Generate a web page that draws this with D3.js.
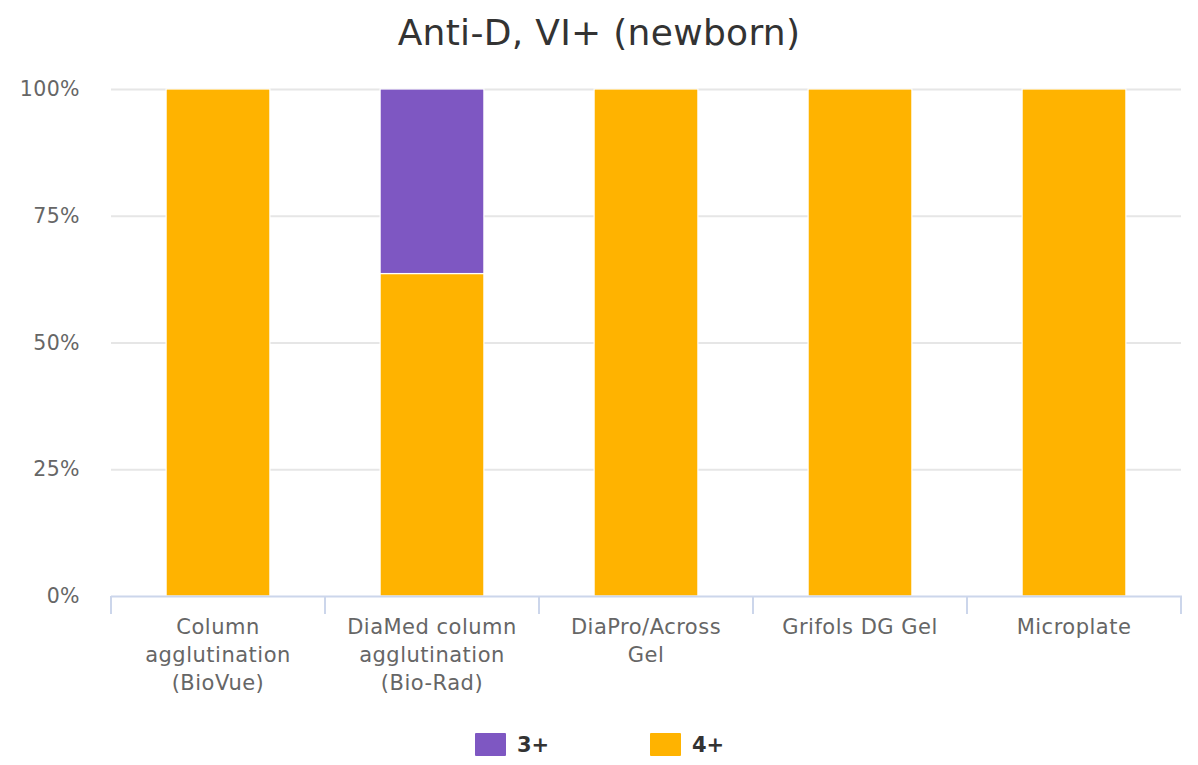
<!DOCTYPE html>
<html>
<head>
<meta charset="utf-8">
<script src="https://cdn.jsdelivr.net/npm/d3@7"></script>
<style>
  html, body { margin: 0; padding: 0; background: #fff; }
  svg { display: block; font-family: "DejaVu Sans", sans-serif; }
</style>
</head>
<body>
<svg id="chart" width="1198" height="765"></svg>
<script>
const title = "Anti-D, VI+ (newborn)";
const categories = [
  "Column agglutination (BioVue)",
  "DiaMed column agglutination (Bio-Rad)",
  "DiaPro/Across Gel",
  "Grifols DG Gel",
  "Microplate"
];
const seriesNames = ["3+", "4+"];
const seriesColors = ["#7E57C2", "#FFB300"];
const values3plus = [0, 36.4, 0, 0, 0];
const values4plus = [100, 63.6, 100, 100, 100];
const yTicks = [0, 25, 50, 75, 100];

const svg = d3.select("#chart");
const W = 1198, H = 765;
const plot = { left: 111, right: 1181, top: 89, bottom: 596 };

svg.append("rect").attr("width", W).attr("height", H).attr("fill", "#fff");

const x = d3.scaleBand().domain(categories).range([plot.left, plot.right])
  .paddingInner(0.515).paddingOuter(0.2575);
const xBounds = d3.scaleBand().domain(categories).range([plot.left, plot.right]).padding(0);
const y = d3.scaleLinear().domain([0, 100]).range([plot.bottom, plot.top]);

// gridlines
svg.append("g").selectAll("line").data(yTicks.filter(t => t > 0)).join("line")
  .attr("x1", plot.left).attr("x2", plot.right)
  .attr("y1", d => y(d) + 0.5).attr("y2", d => y(d) + 0.5)
  .attr("stroke", "#e6e6e6").attr("stroke-width", 2);

// y labels
svg.append("g").selectAll("text").data(yTicks).join("text")
  .attr("x", 80).attr("y", d => y(d) + 7)
  .attr("text-anchor", "end").attr("font-size", 20.5).attr("letter-spacing", 0.4).attr("fill", "#666")
  .text(d => d + "%");

// stacked bars
const rows = categories.map((c, i) => ({ cat: c, "3+": values3plus[i], "4+": values4plus[i] }));
const stack = d3.stack().keys(["4+", "3+"]);
const stacked = stack(rows);
const color = d3.scaleOrdinal().domain(seriesNames).range(seriesColors);

svg.append("g").selectAll("g").data(stacked).join("g")
  .attr("fill", d => color(d.key))
  .selectAll("rect").data(d => d.filter(p => p[1] - p[0] > 0)).join("rect")
  .attr("x", d => x(d.data.cat))
  .attr("width", x.bandwidth())
  .attr("y", d => y(d[1]))
  .attr("height", d => y(d[0]) - y(d[1]))
  .attr("stroke", "#fff").attr("stroke-width", 1.2);

// x axis line and ticks
const axisG = svg.append("g");
axisG.append("line")
  .attr("x1", plot.left).attr("x2", plot.right + 1)
  .attr("y1", plot.bottom + 0.5).attr("y2", plot.bottom + 0.5)
  .attr("stroke", "#ccd6eb").attr("stroke-width", 2);
const bounds = categories.map(c => xBounds(c)).concat([plot.right]);
axisG.selectAll("line.tick").data(bounds).join("line").attr("class", "tick")
  .attr("x1", d => d).attr("x2", d => d)
  .attr("y1", plot.bottom).attr("y2", plot.bottom + 18)
  .attr("stroke", "#ccd6eb").attr("stroke-width", 2);

// x labels with wrapping
const maxW = 180;
const lblG = svg.append("g");
categories.forEach(c => {
  const cx = x(c) + x.bandwidth() / 2;
  const t = lblG.append("text").attr("x", cx).attr("y", 634)
    .attr("text-anchor", "middle").attr("font-size", 21).attr("letter-spacing", 0.5).attr("fill", "#666");
  const words = c.split(" ");
  let line = [];
  let lineNo = 0;
  let tspan = t.append("tspan").attr("x", cx).attr("y", 634);
  words.forEach(w => {
    line.push(w);
    tspan.text(line.join(" "));
    if (tspan.node().getComputedTextLength() > maxW && line.length > 1) {
      line.pop();
      tspan.text(line.join(" "));
      line = [w];
      lineNo++;
      tspan = t.append("tspan").attr("x", cx).attr("y", 634 + lineNo * 28).text(w);
    }
  });
});

// title
svg.append("text").attr("x", W / 2).attr("y", 45)
  .attr("text-anchor", "middle").attr("font-size", 36).attr("letter-spacing", 0.3).attr("fill", "#333")
  .text(title);

// legend
const legendItems = [
  { name: seriesNames[0], x: 475 },
  { name: seriesNames[1], x: 650 }
];
const lg = svg.append("g").selectAll("g").data(legendItems).join("g");
lg.append("rect").attr("x", d => d.x).attr("y", 733).attr("width", 31).attr("height", 23)
  .attr("rx", 1).attr("fill", d => color(d.name));
lg.append("text").attr("x", d => d.x + 42).attr("y", 752)
  .attr("font-size", 21).attr("font-weight", "bold").attr("fill", "#333")
  .text(d => d.name);
</script>
</body>
</html>
